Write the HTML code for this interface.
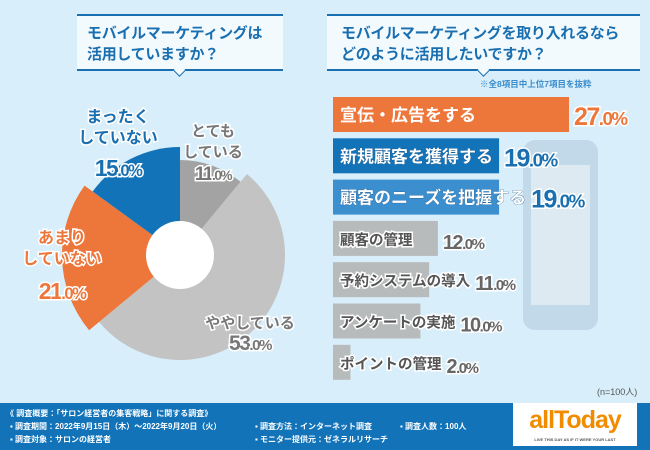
<!DOCTYPE html>
<html><head><meta charset="utf-8"><style>
body{margin:0;width:650px;height:450px;overflow:hidden;background:#d8eefa;font-family:"Liberation Sans","Noto Sans CJK JP",sans-serif;position:relative}
.box{position:absolute;top:14px;height:57px;background:#f3fafe;border-top:2px solid #1a6fb0;border-bottom:2px solid #1a6fb0;color:#1a6fb0;font-weight:bold;font-size:15px;line-height:21px;box-sizing:border-box;padding:7px 0 0 10px;white-space:nowrap;letter-spacing:-0.3px}
.box:after{content:"";position:absolute;left:50%;bottom:-6px;width:8px;height:8px;margin-left:-5px;background:#f3fafe;border-right:1.5px solid #1a6fb0;border-bottom:1.5px solid #1a6fb0;transform:rotate(45deg)}
footer{position:absolute;left:0;top:403px;width:650px;height:47px;background:#1273b9;color:#fff;font-size:8px;font-weight:bold}
footer span{position:absolute;white-space:nowrap}
</style></head><body>
<div class="box" style="left:77px;width:206px">モバイルマーケティングは<br>活用していますか？</div>
<div class="box" style="left:327px;width:313px;padding-left:14px">モバイルマーケティングを取り入れるなら<br>どのように活用したいですか？</div>
<div style="position:absolute;left:480px;top:78px;font-size:8.5px;color:#3a8ccc;font-weight:bold;white-space:nowrap">※全8項目中上位7項目を抜粋</div>
<div style="position:absolute;left:523px;top:140px;width:75px;height:190px;border-radius:12px;background:#b9d0e2;opacity:.7"></div>
<div style="position:absolute;left:531px;top:165px;width:59px;height:140px;background:#e3edf4;opacity:.8"></div>
<svg id="chart" width="650" height="450" style="position:absolute;left:0;top:0"></svg>
<div style="position:absolute;left:597px;top:385px;font-size:9px;color:#555">(n=100人)</div>
<footer>
<span style="left:6px;top:5px">《 調査概要：「サロン経営者の集客戦略」に関する調査》</span>
<span style="left:10px;top:18px">▪ 調査期間：2022年9月15日（木）～2022年9月20日（火）</span>
<span style="left:10px;top:31px">▪ 調査対象：サロンの経営者</span>
<span style="left:255px;top:18px">▪ 調査方法：インターネット調査</span>
<span style="left:255px;top:31px">▪ モニター提供元：ゼネラルリサーチ</span>
<span style="left:400px;top:18px">▪ 調査人数：100人</span>
<div style="position:absolute;left:513px;top:0;width:124px;height:43px;background:#fff;color:#f18c00;font-size:25px;font-weight:bold;text-align:center;line-height:34px;letter-spacing:-1px">allToday<div style="font-size:4px;color:#555;line-height:5px;letter-spacing:0">LIVE THIS DAY AS IF IT WERE YOUR LAST</div></div>
</footer>
<script>
const pieLabels=["とても している","ややしている","あまり していない","まったく していない"];
const pieValues=[11,53,21,15];
const pieColors=["#a3a3a3","#c3c3c3","#ed763b","#1273b9"];
const pieRadii=[95,105,118,108];
const barLabels=["宣伝・広告をする","新規顧客を獲得する","顧客のニーズを把握する","顧客の管理","予約システムの導入","アンケートの実施","ポイントの管理"];
const barValues=[27,19,19,12,11,10,2];
const barColors=["#ed763b","#1273b9","#3b8fcf","#b5b5b5","#b5b5b5","#b5b5b5","#b5b5b5"];
const NS="http://www.w3.org/2000/svg";
const svg=document.getElementById("chart");
function mk(t,a){const e=document.createElementNS(NS,t);for(const k in a)e.setAttribute(k,a[k]);svg.appendChild(e);return e;}
const cx=180,cy=255,total=pieValues.reduce((a,b)=>a+b,0);
let ang=0;
pieValues.forEach((v,i)=>{
 const a0=ang/total*2*Math.PI,a1=(ang+v)/total*2*Math.PI;ang+=v;
 const r=pieRadii[i];
 const x0=cx+r*Math.sin(a0),y0=cy-r*Math.cos(a0),x1=cx+r*Math.sin(a1),y1=cy-r*Math.cos(a1);
 const p=mk("path",{d:`M${cx},${cy}L${x0},${y0}A${r},${r} 0 ${a1-a0>Math.PI?1:0} 1 ${x1},${y1}Z`,fill:pieColors[i]});
 
 
});
const hole=mk("circle",{cx:cx,cy:cy,r:34,fill:"#fff"});


// [x, first-line baseline, value baseline, color, label size, value size]
const pieLabelPos=[[213,136,180,"#777",15,19],[250,328,350,"#777",15,21],[62,243,299,"#ed763b",16,23],[118,122,176,"#1a6fb0",16,23]];
pieValues.forEach((v,i)=>{
 const [x,y,vy,c,ls,vs]=pieLabelPos[i];
 const lines=pieLabels[i].split(" ");
 lines.forEach((l,j)=>{
  const t=mk("text",{x:x,y:y+j*21,"text-anchor":"middle","font-size":ls,"font-weight":"bold",fill:c,stroke:"#fff","stroke-width":3,"paint-order":"stroke"});
  t.textContent=l;
  
  
 });
 const t=mk("text",{x:x,y:vy,"text-anchor":"middle","font-size":vs,"font-weight":"bold",fill:c,stroke:"#fff","stroke-width":3,"paint-order":"stroke","letter-spacing":-1.5});
 const s1=document.createElementNS(NS,"tspan");s1.textContent=String(Math.floor(v));t.appendChild(s1);
 const s2=document.createElementNS(NS,"tspan");s2.setAttribute("font-size",vs*0.72);s2.textContent=".0%";t.appendChild(s2);
 
 
});
const bx=333,by0=97,step=41.3,bh=35,scale=8.74;
barValues.forEach((v,i)=>{
 const y=by0+i*step,w=v*scale;
 const r=mk("rect",{x:bx,y:y,width:w,height:bh,fill:barColors[i],opacity:i>2?0.9:1});
 
 
 const col=i<3;
 const t=mk("text",{x:bx+7,y:y+24,"font-size":col?17:14.5,"font-weight":"bold",fill:col?"#fff":"#555",stroke:col?"#1a4f80":"#fff","stroke-width":col?0.5:3,"paint-order":"stroke"});
 if(i==0)t.setAttribute("stroke","none");
 t.textContent=barLabels[i];
 
 
 const tw=t.getComputedTextLength();
 const vx=Math.max(bx+w,bx+7+tw)+5;
 const vs=col?25:20;
 const vt=mk("text",{x:vx,y:y+28,"font-size":vs,"font-weight":"bold",fill:i==0?"#ed763b":(col?"#1a6fb0":"#666"),stroke:"#fff","stroke-width":3,"paint-order":"stroke","letter-spacing":-1.5});
 const s1=document.createElementNS(NS,"tspan");s1.textContent=String(v);vt.appendChild(s1);
 const s2=document.createElementNS(NS,"tspan");s2.setAttribute("font-size",vs*0.75);s2.textContent=".0%";vt.appendChild(s2);
 
 
});
</script>
</body></html>
